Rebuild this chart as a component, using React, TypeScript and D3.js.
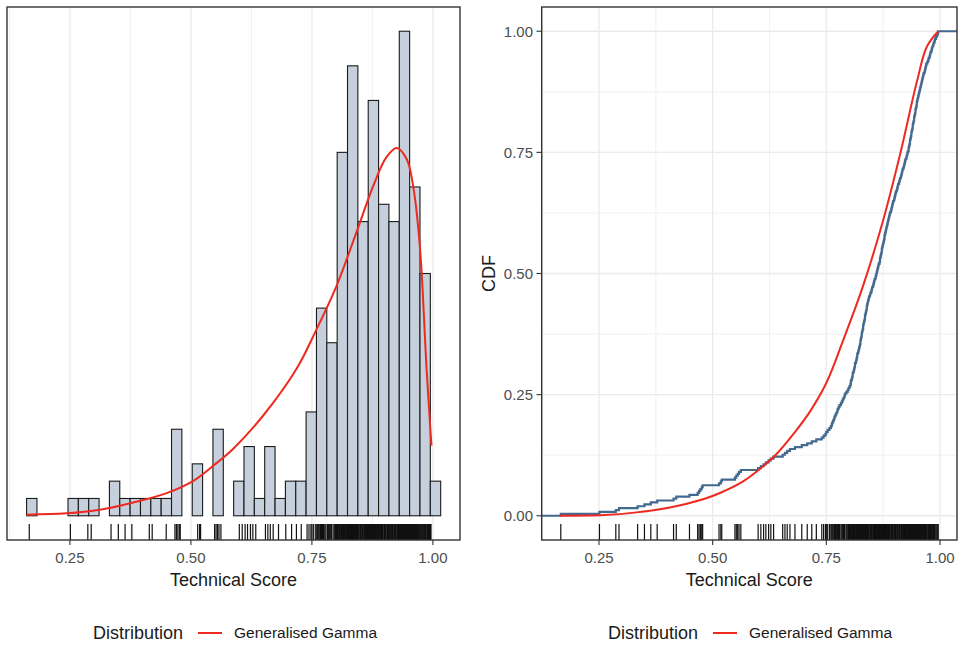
import React, { useRef, useEffect } from 'react';
import * as d3 from 'd3';

const W = 958;
const H = 645;

// histogram: 40 bins of equal width
const binStart = 0.1605;
const binWidth = 0.02139;
const binCounts = [
  1, 0, 0, 0, 1, 1, 1, 0, 2, 1,
  1, 1, 1, 1, 5, 0, 3, 0, 5, 0,
  2, 4, 1, 4, 1, 2, 2, 6, 12, 10,
  21, 26, 17, 24, 18, 17, 28, 19, 14, 2,
];

// fitted generalised gamma density (count scale)
const ggX = [0.16, 0.243, 0.312, 0.381, 0.45, 0.505, 0.546, 0.587, 0.649, 0.718, 0.76, 0.801, 0.842, 0.877, 0.904, 0.925, 0.946, 0.959, 0.973, 0.987, 0.997];
const ggY = [0.06, 0.14, 0.35, 0.77, 1.31, 2.02, 2.89, 3.86, 5.78, 8.48, 10.8, 13.29, 16.38, 19.08, 20.72, 21.25, 20.6, 19.08, 15.6, 8.48, 4.05];

// fitted generalised gamma CDF
const cdfX = [0.164, 0.26, 0.333, 0.406, 0.479, 0.516, 0.567, 0.603, 0.641, 0.677, 0.714, 0.751, 0.787, 0.831, 0.875, 0.912, 0.949, 0.971, 0.996];
const cdfY = [0, 0.0014, 0.007, 0.017, 0.034, 0.047, 0.071, 0.096, 0.128, 0.168, 0.215, 0.276, 0.362, 0.475, 0.61, 0.745, 0.895, 0.968, 1.0];

// technical scores (rug / empirical CDF)
const scores = [
  0.166, 0.251, 0.287, 0.294, 0.335, 0.350, 0.364, 0.378, 0.414, 0.420,
  0.449, 0.467, 0.470, 0.473, 0.476, 0.478, 0.514, 0.518, 0.520, 0.549,
  0.552, 0.555, 0.558, 0.562, 0.600, 0.606, 0.612, 0.617, 0.623, 0.628,
  0.634, 0.654, 0.659, 0.664, 0.670, 0.681, 0.696, 0.708, 0.718, 0.728,
  0.740, 0.744, 0.748, 0.750, 0.753, 0.757,
  0.760, 0.762, 0.763, 0.765, 0.767, 0.768, 0.770, 0.772, 0.774, 0.775, 0.777, 0.779,
  0.782, 0.784, 0.786, 0.788, 0.790, 0.791, 0.794, 0.797, 0.799, 0.801,
  0.803, 0.804, 0.804, 0.806, 0.807, 0.808, 0.808, 0.810, 0.811, 0.812, 0.813, 0.813,
  0.815, 0.816, 0.817, 0.818, 0.818, 0.820, 0.821, 0.822, 0.823,
  0.824, 0.825, 0.825, 0.826, 0.827, 0.828, 0.828, 0.829, 0.830, 0.831, 0.831, 0.832, 0.833,
  0.834, 0.835, 0.835, 0.836, 0.837, 0.838, 0.839, 0.839, 0.840, 0.841, 0.842, 0.843, 0.844,
  0.846, 0.847, 0.849, 0.850, 0.851, 0.853, 0.854, 0.855, 0.856, 0.858, 0.859, 0.860, 0.861,
  0.862, 0.863, 0.864, 0.865,
  0.867, 0.868, 0.868, 0.869, 0.870, 0.871, 0.872, 0.872, 0.873, 0.874, 0.875, 0.876, 0.877,
  0.878, 0.878, 0.879, 0.880, 0.881, 0.882, 0.883, 0.884, 0.885, 0.886, 0.887,
  0.888, 0.889, 0.890, 0.892, 0.893, 0.894, 0.895, 0.896, 0.897, 0.899, 0.900, 0.901, 0.902,
  0.903, 0.905, 0.906, 0.907, 0.908,
  0.910, 0.911, 0.912, 0.914, 0.915, 0.916, 0.917, 0.918, 0.920, 0.921, 0.922, 0.923, 0.924,
  0.926, 0.927, 0.928, 0.929,
  0.931, 0.931, 0.932, 0.933, 0.934, 0.934, 0.935, 0.936, 0.937, 0.937, 0.938, 0.939, 0.940,
  0.940, 0.941, 0.942, 0.943, 0.943, 0.944, 0.945, 0.946, 0.946, 0.947, 0.948, 0.949, 0.949,
  0.950, 0.951,
  0.952, 0.953, 0.954, 0.955, 0.956, 0.957, 0.958, 0.959, 0.960, 0.961, 0.962, 0.963, 0.964,
  0.966, 0.967, 0.968, 0.969, 0.970, 0.972,
  0.974, 0.975, 0.977, 0.978, 0.979, 0.981, 0.982, 0.983, 0.985, 0.986, 0.988, 0.989, 0.991, 0.993,
  0.995, 0.996,
];

const xTicks = [0.25, 0.5, 0.75, 1.0];
const xMinor = [0.125, 0.375, 0.625, 0.875];
const yTicks = [0, 0.25, 0.5, 0.75, 1.0];
const yMinor = [0.125, 0.375, 0.625, 0.875];

const FONT = '"Liberation Sans", Arial, sans-serif';
const RED = '#ee2a20';
const BLUE = '#436a8e';
const GRID = '#ebebeb';
const BORDER = '#333333';

const App = () => {
  const svgRef = useRef(null);

  useEffect(() => {
    const svg = d3.select(svgRef.current).html('');
    const top = 7, bottom = 540;

    // ---------- left panel: histogram ----------
    const lx = d3.scaleLinear().domain([0.12, 1.056]).range([7, 460]);
    const ly = d3.scaleLinear().domain([-1.4, 29.4]).range([bottom, top]);
    const L = svg.append('g');

    L.selectAll('.minor').data(xMinor).enter().append('line')
      .attr('x1', d => lx(d)).attr('x2', d => lx(d))
      .attr('y1', top).attr('y2', bottom)
      .attr('stroke', GRID).attr('stroke-width', 0.7);
    L.selectAll('.major').data(xTicks).enter().append('line')
      .attr('x1', d => lx(d)).attr('x2', d => lx(d))
      .attr('y1', top).attr('y2', bottom)
      .attr('stroke', GRID).attr('stroke-width', 1.3);

    // empty bins still leave their outline on the baseline, as in ggplot
    const bins = binCounts.map((c, i) => ({
      x0: binStart + i * binWidth,
      x1: binStart + (i + 1) * binWidth,
      count: c,
    }));
    L.selectAll('rect.bar').data(bins).enter().append('rect')
      .attr('x', d => lx(d.x0))
      .attr('width', d => lx(d.x1) - lx(d.x0))
      .attr('y', d => ly(d.count))
      .attr('height', d => ly(0) - ly(d.count))
      .attr('fill', '#c6cfdc')
      .attr('stroke', '#1a1a1a')
      .attr('stroke-width', 1.1);

    L.selectAll('.rug').data(scores).enter().append('line')
      .attr('x1', d => lx(d)).attr('x2', d => lx(d))
      .attr('y1', bottom).attr('y2', bottom - 16)
      .attr('stroke', '#111').attr('stroke-width', 1.2);

    const ggLine = d3.line()
      .x(i => lx(ggX[i]))
      .y(i => ly(ggY[i]))
      .curve(d3.curveCatmullRom);
    L.append('path')
      .datum(d3.range(ggX.length))
      .attr('fill', 'none').attr('stroke', RED).attr('stroke-width', 2)
      .attr('d', ggLine);

    L.append('rect')
      .attr('x', 7).attr('y', top).attr('width', 460 - 7).attr('height', bottom - top)
      .attr('fill', 'none').attr('stroke', BORDER).attr('stroke-width', 1.4);

    const lAxis = L.append('g');
    lAxis.selectAll('line').data(xTicks).enter().append('line')
      .attr('x1', d => lx(d)).attr('x2', d => lx(d))
      .attr('y1', bottom).attr('y2', bottom + 5)
      .attr('stroke', BORDER).attr('stroke-width', 1.1);
    lAxis.selectAll('text').data(xTicks).enter().append('text')
      .attr('x', d => lx(d)).attr('y', 563)
      .attr('text-anchor', 'middle')
      .attr('font-family', FONT).attr('font-size', 15).attr('fill', '#4d4d4d')
      .text(d => d3.format('.2f')(d));
    L.append('text')
      .attr('x', (7 + 460) / 2).attr('y', 586)
      .attr('text-anchor', 'middle')
      .attr('font-family', FONT).attr('font-size', 18).attr('fill', '#1a1a1a')
      .text('Technical Score');

    // ---------- right panel: CDF ----------
    const rx = d3.scaleLinear().domain([0.124, 1.0374]).range([541.7, 957]);
    const ry = d3.scaleLinear().domain([-0.05, 1.05]).range([bottom, top]);
    const R = svg.append('g');

    R.selectAll('.vminor').data(xMinor).enter().append('line')
      .attr('x1', d => rx(d)).attr('x2', d => rx(d))
      .attr('y1', top).attr('y2', bottom)
      .attr('stroke', GRID).attr('stroke-width', 0.7);
    R.selectAll('.hminor').data(yMinor).enter().append('line')
      .attr('x1', 541.7).attr('x2', 957)
      .attr('y1', d => ry(d)).attr('y2', d => ry(d))
      .attr('stroke', GRID).attr('stroke-width', 0.7);
    R.selectAll('.vmajor').data(xTicks).enter().append('line')
      .attr('x1', d => rx(d)).attr('x2', d => rx(d))
      .attr('y1', top).attr('y2', bottom)
      .attr('stroke', GRID).attr('stroke-width', 1.3);
    R.selectAll('.hmajor').data(yTicks).enter().append('line')
      .attr('x1', 541.7).attr('x2', 957)
      .attr('y1', d => ry(d)).attr('y2', d => ry(d))
      .attr('stroke', GRID).attr('stroke-width', 1.3);

    R.selectAll('.rug').data(scores).enter().append('line')
      .attr('x1', d => rx(d)).attr('x2', d => rx(d))
      .attr('y1', bottom).attr('y2', bottom - 16)
      .attr('stroke', '#111').attr('stroke-width', 1.2);

    // empirical CDF as a step line
    const sorted = scores.slice().sort(d3.ascending);
    const n = sorted.length;
    const ecdfPts = [[0.124, 0]].concat(sorted.map((s, i) => [s, (i + 1) / n]), [[1.0374, 1]]);
    const stepLine = d3.line()
      .x(d => rx(d[0]))
      .y(d => ry(d[1]))
      .curve(d3.curveStepAfter);
    R.append('path')
      .datum(ecdfPts)
      .attr('fill', 'none').attr('stroke', BLUE).attr('stroke-width', 2.2)
      .attr('d', stepLine);

    const cdfLine = d3.line()
      .x(i => rx(cdfX[i]))
      .y(i => ry(cdfY[i]))
      .curve(d3.curveCatmullRom);
    R.append('path')
      .datum(d3.range(cdfX.length))
      .attr('fill', 'none').attr('stroke', RED).attr('stroke-width', 2)
      .attr('d', cdfLine);

    R.append('rect')
      .attr('x', 541.7).attr('y', top).attr('width', 957 - 541.7).attr('height', bottom - top)
      .attr('fill', 'none').attr('stroke', BORDER).attr('stroke-width', 1.4);

    const rAxis = R.append('g');
    rAxis.selectAll('.xt').data(xTicks).enter().append('line')
      .attr('x1', d => rx(d)).attr('x2', d => rx(d))
      .attr('y1', bottom).attr('y2', bottom + 5)
      .attr('stroke', BORDER).attr('stroke-width', 1.1);
    rAxis.selectAll('.xl').data(xTicks).enter().append('text')
      .attr('x', d => rx(d)).attr('y', 563)
      .attr('text-anchor', 'middle')
      .attr('font-family', FONT).attr('font-size', 15).attr('fill', '#4d4d4d')
      .text(d => d3.format('.2f')(d));
    rAxis.selectAll('.yt').data(yTicks).enter().append('line')
      .attr('x1', 536.5).attr('x2', 541.7)
      .attr('y1', d => ry(d)).attr('y2', d => ry(d))
      .attr('stroke', BORDER).attr('stroke-width', 1.1);
    rAxis.selectAll('.yl').data(yTicks).enter().append('text')
      .attr('x', 533).attr('y', d => ry(d) + 5.3)
      .attr('text-anchor', 'end')
      .attr('font-family', FONT).attr('font-size', 15).attr('fill', '#4d4d4d')
      .text(d => d3.format('.2f')(d));
    R.append('text')
      .attr('x', (541.7 + 957) / 2).attr('y', 586)
      .attr('text-anchor', 'middle')
      .attr('font-family', FONT).attr('font-size', 18).attr('fill', '#1a1a1a')
      .text('Technical Score');
    R.append('text')
      .attr('transform', `translate(494.5,${(top + bottom) / 2}) rotate(-90)`)
      .attr('text-anchor', 'middle')
      .attr('font-family', FONT).attr('font-size', 18).attr('fill', '#1a1a1a')
      .text('CDF');

    // ---------- legends ----------
    const legends = [93, 608];
    legends.forEach(x0 => {
      const g = svg.append('g').attr('transform', `translate(${x0},0)`);
      g.append('text').attr('x', 0).attr('y', 639)
        .attr('font-family', FONT).attr('font-size', 18).attr('fill', '#1a1a1a')
        .text('Distribution');
      g.append('line').attr('x1', 105).attr('x2', 129).attr('y1', 633).attr('y2', 633)
        .attr('stroke', RED).attr('stroke-width', 2);
      g.append('text').attr('x', 141).attr('y', 638)
        .attr('font-family', FONT).attr('font-size', 15.5).attr('fill', '#1a1a1a')
        .text('Generalised Gamma');
    });
  }, []);

  return (
    <svg
      ref={svgRef}
      width={W}
      height={H}
      style={{ position: 'absolute', left: 0, top: 0, background: '#fff' }}
    />
  );
};

export default App;
